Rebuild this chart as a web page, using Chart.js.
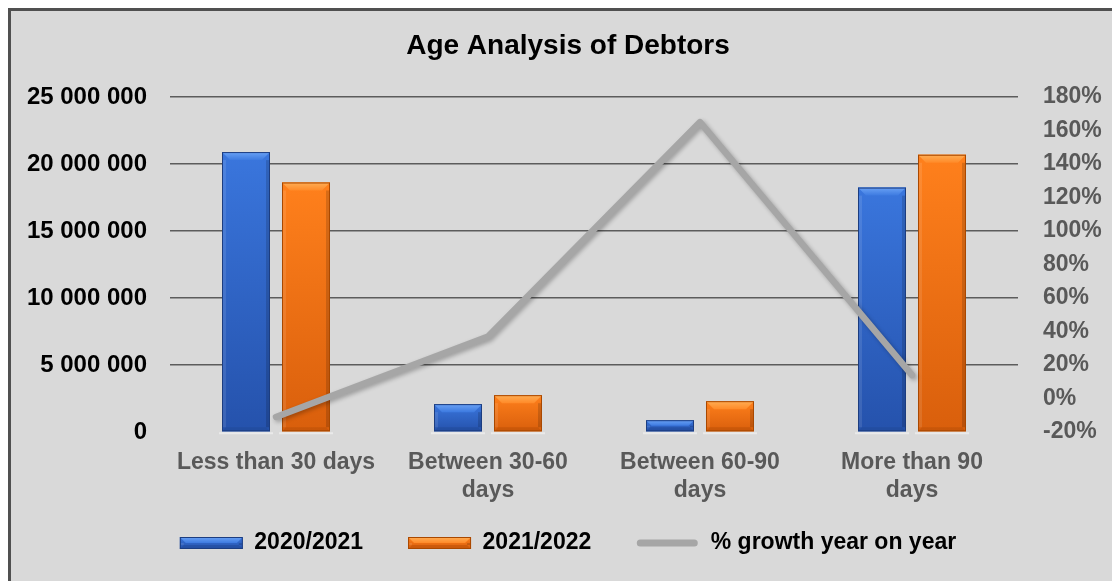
<!DOCTYPE html>
<html>
<head>
<meta charset="utf-8">
<title>Age Analysis of Debtors</title>
<script src="https://cdn.jsdelivr.net/npm/chart.js@4.4.1/dist/chart.umd.min.js"></script>
<style>
  html, body { margin: 0; padding: 0; background: #fff; overflow: hidden; }
  #frame {
    position: absolute; left: 8px; top: 8px;
    width: 1200px; height: 700px;
    background: #d9d9d9;
    border-left: 3px solid #505050;
    border-top: 3px solid #505050;
  }
  #debtors { display: block; }
</style>
</head>
<body>
<div id="frame">
  <canvas id="debtors" width="1114" height="575"></canvas>
</div>
<script>
const categories = [
  "Less than 30 days",
  ["Between 30-60", "days"],
  ["Between 60-90", "days"],
  ["More than 90", "days"]
];
const debtors2021 = [20890000, 2080000, 880000, 18240000];   // 2020/2021
const debtors2022 = [18620000, 2750000, 2300000, 20690000];  // 2021/2022
const growthPct = [-11, 37, 165, 14];                        // % growth year on year

const amountTicks = { min: 0, max: 25000000, step: 5000000 };
const growthTicks = { min: -20, max: 180, step: 20 };

const FONT = "'Liberation Sans', Arial, sans-serif";

// bevel palettes for the two bar series
const bevel = {
  blue:   { top: "#3a76dd", bottom: "#2552ac", cap: "#6aa2f5", capLow: "#3d7ae0", floor: "#1f4896", edge: "#1c3d80" },
  orange: { top: "#ff801c", bottom: "#d95f0c", cap: "#ffae55", capLow: "#ff8a28", floor: "#b84e05", edge: "#a94800" }
};

function fmtSpaces(v) {
  return String(v).replace(/\B(?=(\d{3})+(?!\d))/g, " ");
}

// draws a raised rectangle (body, lit top bevel, darker floor, thin outline)
function drawBevelBox(ctx, x0, y0, x1, y1, pal) {
  const w = x1 - x0, h = y1 - y0;
  if (w <= 0 || h <= 0) return;
  const b = Math.min(8, h / 2, w / 4);

  const body = ctx.createLinearGradient(0, y0, 0, y1);
  body.addColorStop(0, pal.top);
  body.addColorStop(1, pal.bottom);
  ctx.fillStyle = body;
  ctx.fillRect(x0, y0, w, h);

  // top bevel
  const cap = ctx.createLinearGradient(0, y0, 0, y0 + b);
  cap.addColorStop(0, pal.cap);
  cap.addColorStop(1, pal.capLow);
  ctx.beginPath();
  ctx.moveTo(x0, y0);
  ctx.lineTo(x1, y0);
  ctx.lineTo(x1 - b, y0 + b);
  ctx.lineTo(x0 + b, y0 + b);
  ctx.closePath();
  ctx.fillStyle = cap;
  ctx.fill();

  // bottom bevel
  const fb = Math.min(b, 4);
  ctx.beginPath();
  ctx.moveTo(x0, y1);
  ctx.lineTo(x1, y1);
  ctx.lineTo(x1 - fb, y1 - fb);
  ctx.lineTo(x0 + fb, y1 - fb);
  ctx.closePath();
  ctx.fillStyle = pal.floor;
  ctx.globalAlpha = 0.5;
  ctx.fill();
  ctx.globalAlpha = 1;

  // side shading
  ctx.fillStyle = "rgba(255,255,255,0.10)";
  ctx.fillRect(x0 + 1, y0 + b, 3, h - b - fb);
  ctx.fillStyle = "rgba(0,0,0,0.15)";
  ctx.fillRect(x1 - 4, y0 + b, 3, h - b - fb);

  ctx.strokeStyle = pal.edge;
  ctx.lineWidth = 1;
  ctx.strokeRect(x0 + 0.5, y0 + 0.5, w - 1, h - 1);
}

const bevelBars = {
  id: "bevelBars",
  afterDatasetDraw(chart, args) {
    const ds = chart.data.datasets[args.index];
    if (!ds.bevel) return;
    const { ctx } = chart;
    ctx.save();
    args.meta.data.forEach(bar => {
      const x0 = bar.x - bar.width / 2, x1 = bar.x + bar.width / 2;
      // faint reflection under the bar
      ctx.fillStyle = "rgba(255,255,255,0.45)";
      ctx.fillRect(x0 - 3, bar.base + 1, bar.width + 6, 2);
      drawBevelBox(ctx, x0, bar.y, x1, bar.base, bevel[ds.bevel]);
    });
    ctx.restore();
  }
};

// soft drop shadow behind the growth line
const lineShadow = {
  id: "lineShadow",
  beforeDatasetDraw(chart, args) {
    if (chart.data.datasets[args.index].type !== "line") return;
    const ctx = chart.ctx;
    ctx.save();
    ctx.shadowColor = "rgba(0,0,0,0.28)";
    ctx.shadowBlur = 4;
    ctx.shadowOffsetX = 2;
    ctx.shadowOffsetY = 2;
  },
  afterDatasetDraw(chart, args) {
    if (chart.data.datasets[args.index].type !== "line") return;
    chart.ctx.restore();
  }
};

// pull the legend up closer to the category labels (its padding also sets item gaps)
const legendOffset = {
  id: "legendOffset",
  afterLayout(chart) {
    const lg = chart.legend;
    const h = lg.bottom - lg.top;
    lg.top = chart.scales.x.top + 54.5;
    lg.bottom = lg.top + h;
  }
};

// legend markers drawn by hand so bars get the bevel and the line a thick stroke
const legendMarkers = {
  id: "legendMarkers",
  afterDraw(chart) {
    const { ctx } = chart;
    const boxes = chart.legend.legendHitBoxes;
    ctx.save();
    chart.legend.legendItems.forEach((item, i) => {
      const hb = boxes[i];
      const cy = hb.top + hb.height / 2;
      const ds = chart.data.datasets[item.datasetIndex];
      if (ds.bevel) {
        drawBevelBox(ctx, hb.left, cy - 6, hb.left + 63, cy + 6, bevel[ds.bevel]);
      } else {
        ctx.strokeStyle = ds.borderColor;
        ctx.lineWidth = 7;
        ctx.lineCap = "round";
        ctx.beginPath();
        ctx.moveTo(hb.left + 4, cy);
        ctx.lineTo(hb.left + 58, cy);
        ctx.stroke();
      }
    });
    ctx.restore();
  }
};

const data = {
  labels: categories,
  datasets: [
    {
      type: "bar",
      label: "2020/2021",
      data: debtors2021,
      backgroundColor: "#2e62c4",
      bevel: "blue",
      yAxisID: "y",
      order: 1,
      categoryPercentage: 0.566,
      barPercentage: 0.8
    },
    {
      type: "bar",
      label: "2021/2022",
      data: debtors2022,
      backgroundColor: "#f0720f",
      bevel: "orange",
      yAxisID: "y",
      order: 1,
      categoryPercentage: 0.566,
      barPercentage: 0.8
    },
    {
      type: "line",
      label: "% growth year on year",
      data: growthPct,
      borderColor: "#a6a6a6",
      borderWidth: 6.5,
      borderCapStyle: "round",
      borderJoinStyle: "round",
      pointRadius: 0,
      tension: 0,
      fill: false,
      yAxisID: "y1",
      order: -1
    }
  ]
};

const options = {
  responsive: false,
  animation: false,
  layout: { padding: { top: 0, left: 0, right: 0, bottom: 2 } },
  plugins: {
    tooltip: { enabled: false },
    title: {
      display: true,
      text: "Age Analysis of Debtors",
      color: "#000",
      font: { family: FONT, size: 28, weight: "bold" },
      padding: { top: 18, bottom: 34.4 }
    },
    legend: {
      position: "bottom",
      labels: {
        boxWidth: 63,
        boxHeight: 11,
        padding: 45,
        color: "#000",
        font: { family: FONT, size: 23, weight: "bold" },
        generateLabels(chart) {
          return chart.data.datasets.map((ds, i) => ({
            text: ds.label,
            datasetIndex: i,
            fillStyle: "rgba(0,0,0,0)",
            strokeStyle: "rgba(0,0,0,0)",
            lineWidth: 0,
            fontColor: "#000",
            hidden: false
          }));
        }
      }
    }
  },
  scales: {
    x: {
      grid: { display: false, drawTicks: false },
      border: { display: false },
      ticks: {
        color: "#595959",
        padding: 17,
        maxRotation: 0,
        font: { family: FONT, size: 23, weight: "bold" }
      },
      afterFit(scale) { scale.height = 74; }
    },
    y: {
      position: "left",
      min: amountTicks.min,
      max: amountTicks.max,
      grid: {
        drawTicks: false,
        lineWidth: 1.5,
        color: c => (c.tick && c.tick.value === 0 ? "rgba(0,0,0,0)" : "#5c5c5c")
      },
      border: { display: false },
      ticks: {
        stepSize: amountTicks.step,
        color: "#000",
        padding: 23,
        font: { family: FONT, size: 24, weight: "bold" },
        callback: v => fmtSpaces(v)
      },
      afterFit(scale) { scale.width = 159; }
    },
    y1: {
      position: "right",
      min: growthTicks.min,
      max: growthTicks.max,
      grid: { drawOnChartArea: false, drawTicks: false },
      border: { display: false },
      ticks: {
        stepSize: growthTicks.step,
        color: "#595959",
        padding: 25,
        font: { family: FONT, size: 23, weight: "bold" },
        callback: v => v + "%"
      },
      afterFit(scale) { scale.width = 107; }
    }
  }
};

new Chart(document.getElementById("debtors"), {
  data,
  options,
  plugins: [lineShadow, bevelBars, legendOffset, legendMarkers]
});
</script>
</body>
</html>
